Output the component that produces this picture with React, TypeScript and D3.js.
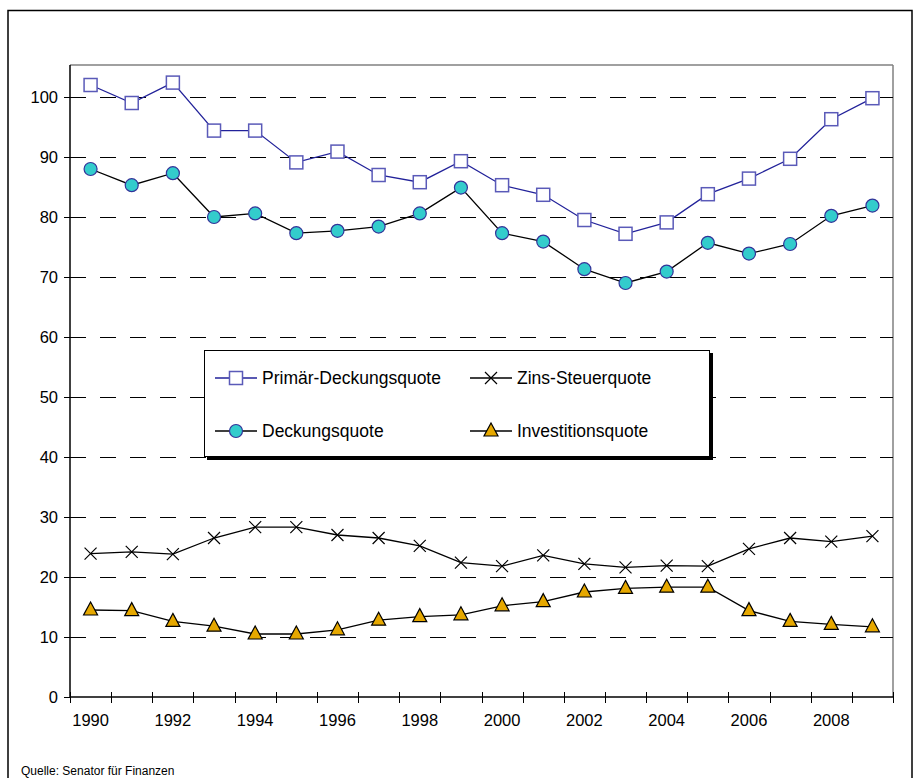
import React from "react";
import * as d3 from "d3";

const years = [1990,1991,1992,1993,1994,1995,1996,1997,1998,1999,2000,2001,2002,2003,2004,2005,2006,2007,2008,2009];
const primaerDeckungsquote = [102.0,99.0,102.4,94.4,94.4,89.1,90.9,87.0,85.8,89.3,85.3,83.7,79.5,77.2,79.1,83.8,86.4,89.7,96.3,99.8];
const deckungsquote = [88.0,85.3,87.3,80.0,80.6,77.3,77.7,78.4,80.6,84.9,77.3,75.9,71.3,69.0,70.9,75.7,73.9,75.5,80.2,81.9];
const zinsSteuerquote = [23.9,24.2,23.8,26.5,28.3,28.3,27.0,26.5,25.2,22.4,21.8,23.6,22.2,21.6,21.9,21.8,24.7,26.5,25.9,26.8];
const investitionsquote = [14.5,14.4,12.6,11.8,10.5,10.5,11.2,12.8,13.4,13.7,15.2,15.9,17.5,18.1,18.3,18.3,14.4,12.6,12.1,11.7];
const yTicks = [0,10,20,30,40,50,60,70,80,90,100];
const xLabelYears = [1990,1992,1994,1996,1998,2000,2002,2004,2006,2008];

const W = 915, H = 778;
const plotLeft = 70, plotRight = 893, plotTop = 65, plotBottom = 697;
const FONT = "'Liberation Sans', Arial, sans-serif";
const NAVY = "#22229a";
const TEAL = "#33cccc";
const GOLD = "#e6a800";

function Square({ x, y }: { x: number; y: number }) {
  return <rect x={x - 6.5} y={y - 6.5} width={13} height={13} fill="#fff" stroke="#5a5ab8" strokeWidth={1.5} />;
}
function Circle({ x, y }: { x: number; y: number }) {
  return <circle cx={x} cy={y} r={6.5} fill={TEAL} stroke="#333399" strokeWidth={1.2} />;
}
function Cross({ x, y }: { x: number; y: number }) {
  const s = 6;
  return <path d={`M${x - s},${y - s}L${x + s},${y + s}M${x - s},${y + s}L${x + s},${y - s}`} stroke="#000" strokeWidth={1.2} />;
}
function Tri({ x, y }: { x: number; y: number }) {
  return <path d={`M${x},${y - 8}L${x + 7},${y + 5}L${x - 7},${y + 5}Z`} fill={GOLD} stroke="#000" strokeWidth={1.2} />;
}

export default function App() {
  const x = d3.scaleBand<number>().domain(years).range([plotLeft, plotRight]).paddingInner(0).paddingOuter(0);
  const cx = (yr: number) => (x(yr) as number) + x.bandwidth() / 2;
  const y = d3.scaleLinear().domain([0, 100]).range([plotBottom, plotBottom - 600]);

  const line = (vals: number[]) =>
    d3.line<number>().x((_, i) => cx(years[i])).y((v) => y(v))(vals) as string;

  const series = [
    { vals: primaerDeckungsquote, color: NAVY, M: Square },
    { vals: deckungsquote, color: "#000", M: Circle },
    { vals: zinsSteuerquote, color: "#000", M: Cross },
    { vals: investitionsquote, color: "#000", M: Tri },
  ];

  const boundaries = years.map((yr) => x(yr) as number).concat([plotRight]);

  const legendItems = [
    { label: "Primär-Deckungsquote", M: Square, color: NAVY, lx: 215, ty: 378 },
    { label: "Zins-Steuerquote", M: Cross, color: "#000", lx: 470, ty: 378 },
    { label: "Deckungsquote", M: Circle, color: "#000", lx: 215, ty: 431 },
    { label: "Investitionsquote", M: Tri, color: "#000", lx: 470, ty: 431 },
  ];

  return (
    <svg width={W} height={H} style={{ position: "absolute", left: 0, top: 0, background: "#fff" }} fontFamily={FONT}>
      <rect x={0} y={0} width={W} height={H} fill="#fff" />
      {/* outer frame */}
      <rect x={8} y={10.5} width={904} height={800} fill="none" stroke="#000" strokeWidth={1.5} />
      {/* plot area border */}
      <line x1={plotLeft} y1={plotTop} x2={plotRight} y2={plotTop} stroke="#808080" strokeWidth={1.5} />
      <line x1={plotRight} y1={plotTop} x2={plotRight} y2={plotBottom} stroke="#808080" strokeWidth={1.5} />
      {/* grid lines */}
      {yTicks.filter((t) => t > 0).map((t) => (
        <line key={t} x1={plotLeft} x2={plotRight} y1={Math.round(y(t)) + 0.5} y2={Math.round(y(t)) + 0.5}
          stroke="#000" strokeWidth={1} strokeDasharray="16,14" />
      ))}
      {/* y axis */}
      <line x1={plotLeft} y1={plotTop} x2={plotLeft} y2={plotBottom} stroke="#000" strokeWidth={1.5} />
      {yTicks.map((t) => (
        <g key={t}>
          <line x1={plotLeft - 6} x2={plotLeft} y1={Math.round(y(t)) + 0.5} y2={Math.round(y(t)) + 0.5} stroke="#000" strokeWidth={1} />
          <text x={58} y={y(t)} dy="0.36em" textAnchor="end" fontSize={16.5} fill="#000">{t}</text>
        </g>
      ))}
      {/* x axis */}
      <line x1={plotLeft} y1={plotBottom} x2={plotRight} y2={plotBottom} stroke="#000" strokeWidth={1.5} />
      {boundaries.map((b, i) => (
        <line key={i} x1={Math.round(b) + 0.5} x2={Math.round(b) + 0.5} y1={plotBottom - 5} y2={plotBottom + 6} stroke="#000" strokeWidth={1} />
      ))}
      {xLabelYears.map((yr) => (
        <text key={yr} x={cx(yr)} y={726} textAnchor="middle" fontSize={16.5} fill="#000">{yr}</text>
      ))}
      {/* series */}
      {series.map((s, si) => (
        <g key={si}>
          <path d={line(s.vals)} fill="none" stroke={s.color} strokeWidth={1.3} />
          {s.vals.map((v, i) => (
            <s.M key={i} x={cx(years[i])} y={y(v)} />
          ))}
        </g>
      ))}
      {/* legend */}
      <rect x={207} y={353} width={506} height={107} fill="#000" />
      <rect x={204.5} y={350.5} width={505} height={106} fill="#fff" stroke="#000" strokeWidth={1} />
      {legendItems.map((it, i) => (
        <g key={i}>
          <line x1={it.lx} x2={it.lx + 42} y1={it.ty} y2={it.ty} stroke={it.color} strokeWidth={1.3} />
          <it.M x={it.lx + 21} y={it.ty} />
          <text x={it.lx + 47} y={it.ty} dy="0.36em" fontSize={17.5} fill="#000">{it.label}</text>
        </g>
      ))}
      <text x={21} y={775} fontSize={12} fill="#000">Quelle: Senator für Finanzen</text>
    </svg>
  );
}
